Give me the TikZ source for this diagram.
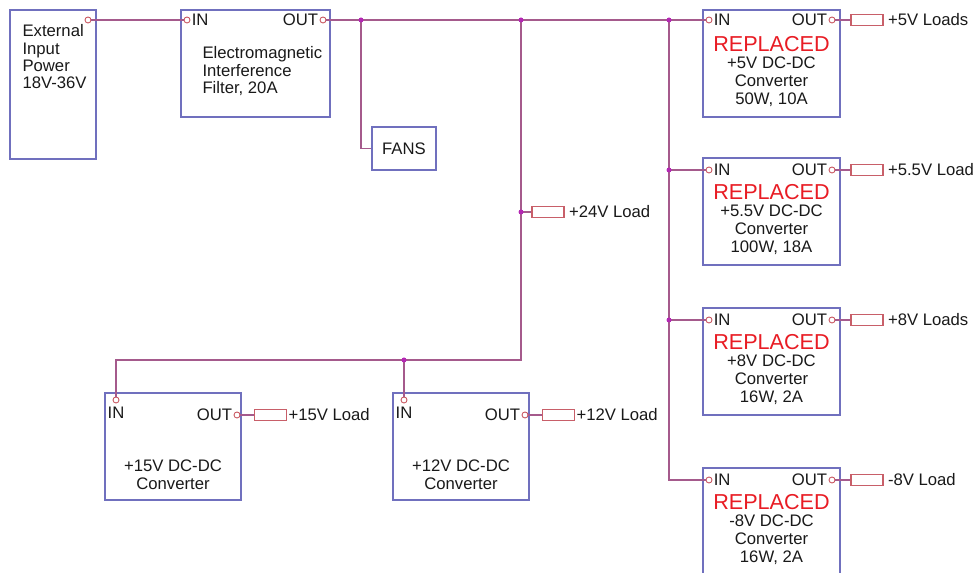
\documentclass[tikz,border=0pt]{standalone}
\usepackage{fontspec}
\setmainfont{Liberation Sans}
\usetikzlibrary{positioning}

\definecolor{boxblue}{RGB}{112,112,190}
\definecolor{wirepink}{RGB}{165,90,140}
\definecolor{dotpink}{RGB}{180,40,180}
\definecolor{pinred}{RGB}{200,85,95}
\definecolor{loadred}{RGB}{200,95,105}
\definecolor{replred}{RGB}{232,28,36}
\definecolor{inkgray}{RGB}{25,25,25}

\begin{document}
\begin{tikzpicture}[
        x=0.02cm, y=-0.02cm,
        font=\fontsize{9.5}{9.6}\selectfont,
        line width=0.6pt,
        % Style for the boxes
        blockbox/.style={rectangle, draw=boxblue, inner sep=0pt, text=inkgray},
        convbox/.style={blockbox, minimum width=2.74cm, minimum height=2.14cm},
        lowbox/.style={blockbox, minimum width=2.72cm, minimum height=2.14cm},
        % Style for the texts inside the boxes
        boxtext/.style={inner sep=0pt, align=left, text=inkgray, font=\fontsize{9.5}{9.9}\selectfont},
        convtext/.style={inner sep=0pt, align=center, text=inkgray, font=\fontsize{9.5}{10.1}\selectfont},
        % Terminals, loads and their labels
        pinmark/.style={circle, draw=pinred, fill=white, inner sep=0pt, minimum size=0.12cm, line width=0.5pt},
        pinlabel/.style={inner sep=0pt, text=inkgray},
        loadbox/.style={rectangle, draw=loadred, inner sep=0pt, minimum width=0.64cm, minimum height=0.22cm},
        wire/.style={draw=wirepink}
    ]
    \useasboundingbox (0,0) rectangle (977,573);

    % --- 1. INPUT, FILTER AND FANS ---
    \node[blockbox, minimum width=1.72cm, minimum height=2.98cm] (ext) at (53,84.5) {};
    \node[boxtext, anchor=north west] (exttxt) at (22,24) {External\\Input\\Power\\18V-36V};
    \node[pinmark] (extout) at (88,20) {};

    \node[blockbox, minimum width=2.98cm, minimum height=2.14cm] (emi) at (255.5,63.5) {};
    \node[boxtext, anchor=north west] (emitxt) at (202,46) {Electromagnetic\\Interference\\Filter, 20A};
    \node[pinmark] (emiin) at (187,20) {};
    \node[pinlabel, right=0.5pt of emiin] (emiinl) {IN};
    \node[pinmark] (emiout) at (323,20) {};
    \node[pinlabel, left=0.5pt of emiout] (emioutl) {OUT};

    \node[blockbox, minimum width=1.28cm, minimum height=0.86cm] (fans) at (404,148.5) {FANS};

    % --- 2. REPLACED CONVERTERS (right column) ---
    \node[convbox] (c5) at (771.5,63.5) {};
    \node[convtext, below=0.52cm of c5.north] (c5txt) {{\color{replred}\fontsize{12.3}{12.3}\selectfont REPLACED}\\+5V DC-DC\\Converter\\50W, 10A};
    \node[pinmark] (c5in) at (709,20) {};
    \node[pinlabel, right=0.5pt of c5in] (c5inl) {IN};
    \node[pinmark] (c5out) at (832,20) {};
    \node[pinlabel, left=0.5pt of c5out] (c5outl) {OUT};
    \node[loadbox] (l5) at (867,20) {};
    \node[pinlabel, right=0.08cm of l5] (l5txt) {+5V Loads};

    \node[convbox] (c55) at (771.5,211.5) {};
    \node[convtext, below=0.52cm of c55.north] (c55txt) {{\color{replred}\fontsize{12.3}{12.3}\selectfont REPLACED}\\+5.5V DC-DC\\Converter\\100W, 18A};
    \node[pinmark] (c55in) at (709,170) {};
    \node[pinlabel, right=0.5pt of c55in] (c55inl) {IN};
    \node[pinmark] (c55out) at (832,170) {};
    \node[pinlabel, left=0.5pt of c55out] (c55outl) {OUT};
    \node[loadbox] (l55) at (867,170) {};
    \node[pinlabel, right=0.08cm of l55] (l55txt) {+5.5V Load};

    \node[convbox] (c8) at (771.5,361.5) {};
    \node[convtext, below=0.52cm of c8.north] (c8txt) {{\color{replred}\fontsize{12.3}{12.3}\selectfont REPLACED}\\+8V DC-DC\\Converter\\16W, 2A};
    \node[pinmark] (c8in) at (709,320) {};
    \node[pinlabel, right=0.5pt of c8in] (c8inl) {IN};
    \node[pinmark] (c8out) at (832,320) {};
    \node[pinlabel, left=0.5pt of c8out] (c8outl) {OUT};
    \node[loadbox] (l8) at (867,320) {};
    \node[pinlabel, right=0.08cm of l8] (l8txt) {+8V Loads};

    \node[convbox] (cm8) at (771.5,521.5) {};
    \node[convtext, below=0.52cm of cm8.north] (cm8txt) {{\color{replred}\fontsize{12.3}{12.3}\selectfont REPLACED}\\-8V DC-DC\\Converter\\16W, 2A};
    \node[pinmark] (cm8in) at (709,480) {};
    \node[pinlabel, right=0.5pt of cm8in] (cm8inl) {IN};
    \node[pinmark] (cm8out) at (832,480) {};
    \node[pinlabel, left=0.5pt of cm8out] (cm8outl) {OUT};
    \node[loadbox] (lm8) at (867,480) {};
    \node[pinlabel, right=0.08cm of lm8] (lm8txt) {-8V Load};

    % --- 3. +15V AND +12V CONVERTERS (bottom row) ---
    \node[lowbox] (c15) at (173,446.5) {};
    \node[convtext, below=1.34cm of c15.north] (c15txt) {+15V DC-DC\\Converter};
    \node[pinmark] (c15in) at (116,400) {};
    \node[pinlabel, below=0.07cm of c15in] (c15inl) {IN};
    \node[pinmark] (c15out) at (237,415) {};
    \node[pinlabel, left=0.5pt of c15out] (c15outl) {OUT};
    \node[loadbox] (l15) at (270.5,415) {};
    \node[pinlabel, right=0.02cm of l15] (l15txt) {+15V Load};

    \node[lowbox] (c12) at (461,446.5) {};
    \node[convtext, below=1.34cm of c12.north] (c12txt) {+12V DC-DC\\Converter};
    \node[pinmark] (c12in) at (404,400) {};
    \node[pinlabel, below=0.07cm of c12in] (c12inl) {IN};
    \node[pinmark] (c12out) at (525,415) {};
    \node[pinlabel, left=0.5pt of c12out] (c12outl) {OUT};
    \node[loadbox] (l12) at (558.5,415) {};
    \node[pinlabel, right=0.02cm of l12] (l12txt) {+12V Load};

    % +24V load on the vertical bus
    \coordinate (j24) at (521,212);
    \node[loadbox] (l24) at (548,212) {};
    \node[pinlabel, right=0.08cm of l24] (l24txt) {+24V Load};

    % --- 4. WIRES ---
    \coordinate (jf) at (361,20);
    \coordinate (jv) at (521,20);
    \coordinate (jr) at (669,20);
    \coordinate (jbot) at (521,360);
    \coordinate (j12) at (404,360);
    \coordinate (j55) at (jr |- c55in);
    \coordinate (j8) at (jr |- c8in);

    \draw[wire] (extout) -- (emiin);
    \draw[wire] (emiout) -- (jf) -- (jv) -- (jr) -- (c5in);
    \draw[wire] (jf) |- (fans);
    \draw[wire] (jv) -- (j24) -- (jbot) -- (j12) -| (c15in);
    \draw[wire] (j12) -- (c12in);
    \draw[wire] (j24) -- (l24);
    \draw[wire] (jr) -- (j55) -- (j8) |- (cm8in);
    \draw[wire] (j55) -- (c55in);
    \draw[wire] (j8) -- (c8in);

    % outputs to the loads
    \draw[wire] (c5out) -- (l5);
    \draw[wire] (c55out) -- (l55);
    \draw[wire] (c8out) -- (l8);
    \draw[wire] (cm8out) -- (lm8);
    \draw[wire] (c15out) -- (l15);
    \draw[wire] (c12out) -- (l12);

    % junction dots
    \fill[dotpink] (jf) circle[radius=0.05cm] (jv) circle[radius=0.05cm]
        (jr) circle[radius=0.05cm] (j24) circle[radius=0.05cm]
        (j12) circle[radius=0.05cm] (j55) circle[radius=0.05cm]
        (j8) circle[radius=0.05cm];

\end{tikzpicture}
\end{document}
